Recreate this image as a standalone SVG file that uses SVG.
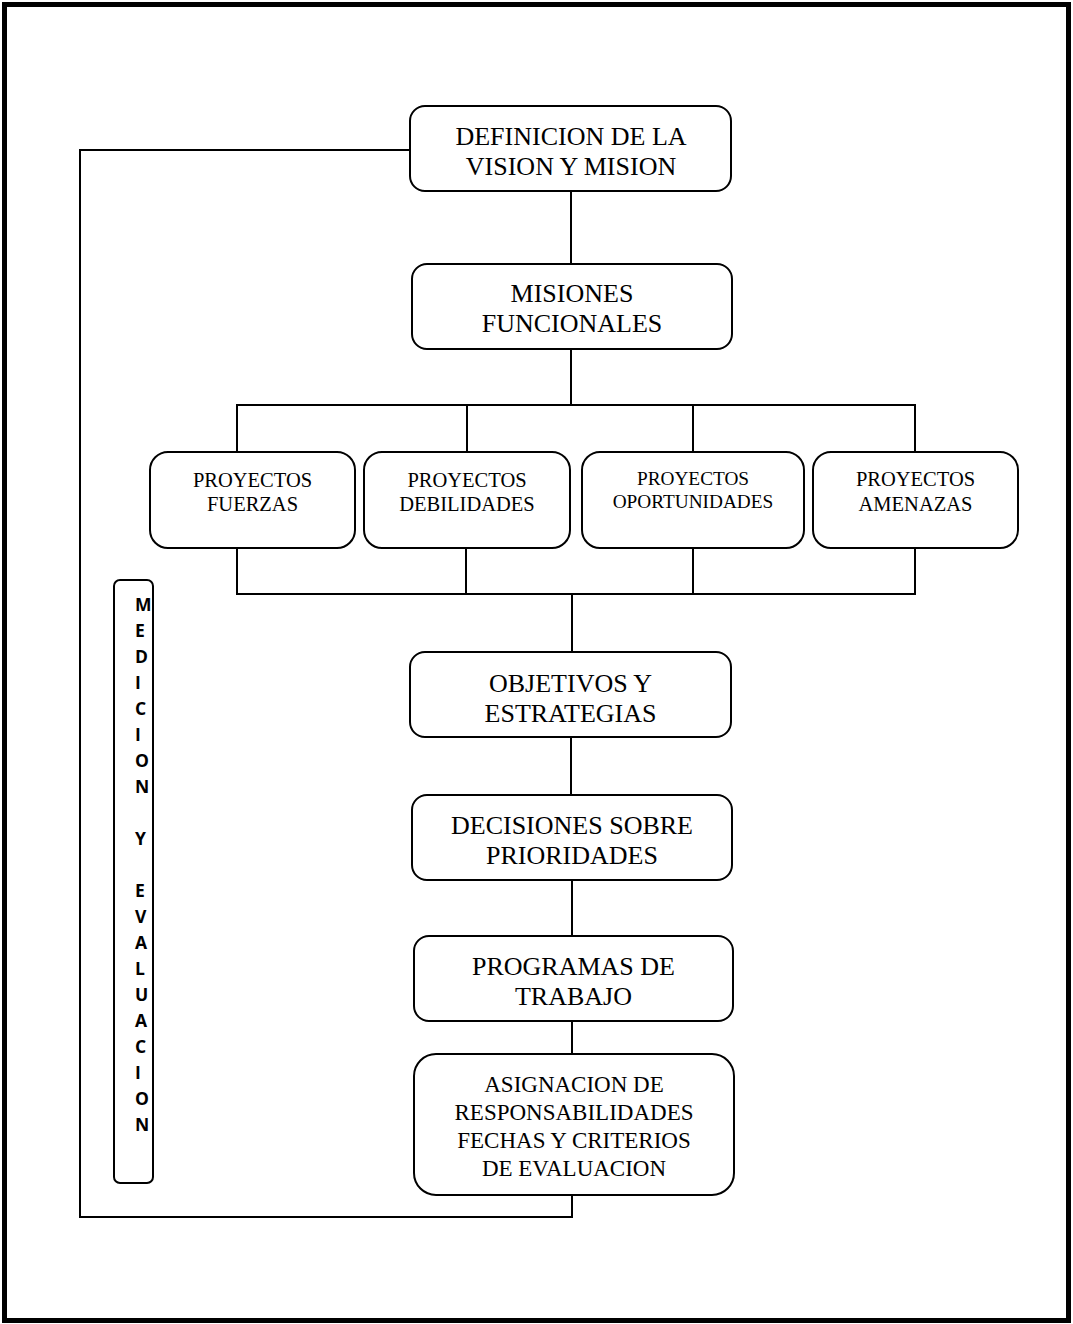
<svg xmlns="http://www.w3.org/2000/svg" width="1073" height="1324" viewBox="0 0 1073 1324">
<style>
.box{fill:#fff;stroke:#000;stroke-width:2}
.ln{fill:none;stroke:#000;stroke-width:2}
.t{font-family:"Liberation Serif","Times New Roman",serif;fill:#000;text-anchor:middle}
.big{font-size:26px}
.mid{font-size:23px}
.sm{font-size:20.5px}
.v{font-family:"Open Sans","Liberation Sans",sans-serif;font-weight:bold;font-size:17.5px;fill:#000}
</style>
<rect x="0" y="0" width="1073" height="1324" fill="#fff"/>
<rect x="4.5" y="4.5" width="1064" height="1316" fill="none" stroke="#000" stroke-width="5"/>
<g id="connectors">
<polyline class="ln" points="410,150 80,150 80,1217 572,1217 572,1195"/>
<line class="ln" x1="571" y1="191" x2="571" y2="264"/>
<line class="ln" x1="571" y1="349" x2="571" y2="405"/>
<line class="ln" x1="236" y1="405" x2="916" y2="405"/>
<line class="ln" x1="237" y1="405" x2="237" y2="452"/>
<line class="ln" x1="467" y1="405" x2="467" y2="452"/>
<line class="ln" x1="693" y1="405" x2="693" y2="452"/>
<line class="ln" x1="915" y1="405" x2="915" y2="452"/>
<line class="ln" x1="237" y1="548" x2="237" y2="594"/>
<line class="ln" x1="466" y1="548" x2="466" y2="594"/>
<line class="ln" x1="693" y1="548" x2="693" y2="594"/>
<line class="ln" x1="915" y1="548" x2="915" y2="594"/>
<line class="ln" x1="236" y1="594" x2="916" y2="594"/>
<line class="ln" x1="572" y1="594" x2="572" y2="652"/>
<line class="ln" x1="571" y1="737" x2="571" y2="795"/>
<line class="ln" x1="572" y1="880" x2="572" y2="936"/>
<line class="ln" x1="572" y1="1021" x2="572" y2="1054"/>
</g>
<g id="n-definicion">
<rect class="box" x="410" y="106" width="321" height="85" rx="15"/>
<text class="t big" x="571" y="145">DEFINICION DE LA</text>
<text class="t big" x="571" y="175">VISION Y MISION</text>
</g>
<g id="n-misiones">
<rect class="box" x="412" y="264" width="320" height="85" rx="15"/>
<text class="t big" x="572" y="302">MISIONES</text>
<text class="t big" x="572" y="332">FUNCIONALES</text>
</g>
<g id="n-fuerzas">
<rect class="box" x="150" y="452" width="205" height="96" rx="18"/>
<text class="t sm" x="252.5" y="487">PROYECTOS</text>
<text class="t sm" x="252.5" y="511">FUERZAS</text>
</g>
<g id="n-debilidades">
<rect class="box" x="364" y="452" width="206" height="96" rx="18"/>
<text class="t sm" x="467" y="487">PROYECTOS</text>
<text class="t sm" x="467" y="511">DEBILIDADES</text>
</g>
<g id="n-oportunidades">
<rect class="box" x="582" y="452" width="222" height="96" rx="18"/>
<text class="t" font-size="19.3" x="693" y="485">PROYECTOS</text>
<text class="t" font-size="19.3" x="693" y="508">OPORTUNIDADES</text>
</g>
<g id="n-amenazas">
<rect class="box" x="813" y="452" width="205" height="96" rx="18"/>
<text class="t sm" x="915.5" y="486">PROYECTOS</text>
<text class="t sm" x="915.5" y="511">AMENAZAS</text>
</g>
<g id="n-objetivos">
<rect class="box" x="410" y="652" width="321" height="85" rx="15"/>
<text class="t big" x="570.5" y="692">OBJETIVOS Y</text>
<text class="t big" x="570.5" y="722">ESTRATEGIAS</text>
</g>
<g id="n-decisiones">
<rect class="box" x="412" y="795" width="320" height="85" rx="15"/>
<text class="t big" x="572" y="834">DECISIONES SOBRE</text>
<text class="t big" x="572" y="864">PRIORIDADES</text>
</g>
<g id="n-programas">
<rect class="box" x="414" y="936" width="319" height="85" rx="15"/>
<text class="t big" x="573.5" y="975">PROGRAMAS DE</text>
<text class="t big" x="573.5" y="1005">TRABAJO</text>
</g>
<g id="n-asignacion">
<rect class="box" x="414" y="1054" width="320" height="141" rx="22"/>
<text class="t mid" x="574" y="1092">ASIGNACION DE</text>
<text class="t mid" x="574" y="1120">RESPONSABILIDADES</text>
<text class="t mid" x="574" y="1148">FECHAS Y CRITERIOS</text>
<text class="t mid" x="574" y="1176">DE EVALUACION</text>
</g>
<g id="n-medicion">
<rect class="box" x="114" y="580" width="39" height="603" rx="6"/>
<text class="v"><tspan x="135" y="611">M</tspan><tspan x="135" y="637">E</tspan><tspan x="135" y="663">D</tspan><tspan x="135" y="689">I</tspan><tspan x="135" y="715">C</tspan><tspan x="135" y="741">I</tspan><tspan x="135" y="767">O</tspan><tspan x="135" y="793">N</tspan><tspan x="135" y="845">Y</tspan><tspan x="135" y="897">E</tspan><tspan x="135" y="923">V</tspan><tspan x="135" y="949">A</tspan><tspan x="135" y="975">L</tspan><tspan x="135" y="1001">U</tspan><tspan x="135" y="1027">A</tspan><tspan x="135" y="1053">C</tspan><tspan x="135" y="1079">I</tspan><tspan x="135" y="1105">O</tspan><tspan x="135" y="1131">N</tspan></text>
</g>
</svg>
